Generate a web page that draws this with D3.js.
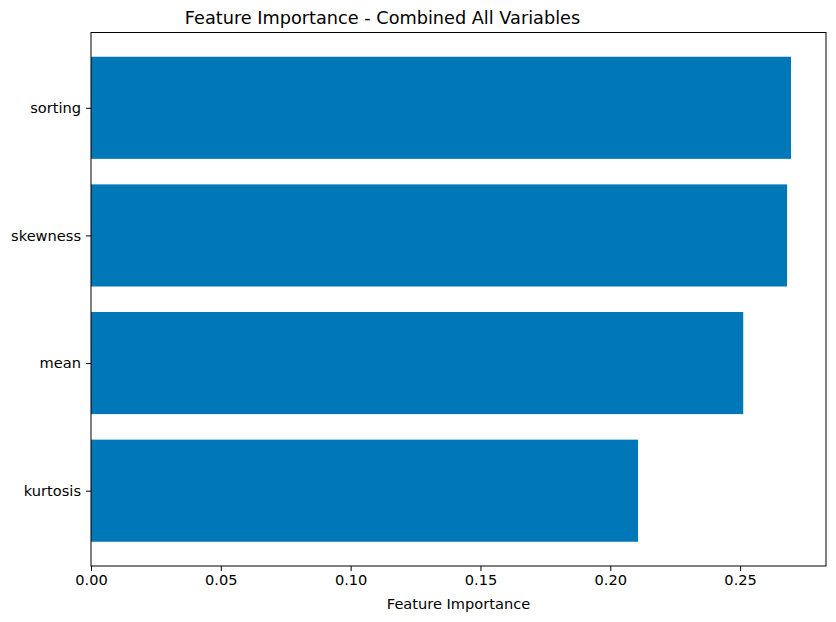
<!DOCTYPE html>
<html>
<head>
<meta charset="utf-8">
<script src="https://cdn.jsdelivr.net/npm/d3@7"></script>
<style>
body { margin: 0; background: #fff; }
svg text { font-family: "DejaVu Sans", sans-serif; fill: #000; }
</style>
</head>
<body>
<div id="container"></div>
<script>
var features = ["kurtosis", "mean", "skewness", "sorting"];
var importance = [0.2107, 0.2512, 0.2681, 0.2696];
var xTicks = [0, 0.05, 0.10, 0.15, 0.20, 0.25];

var width = 836, height = 622;
var plotLeft = 91, plotRight = 826, plotTop = 32.5, plotBottom = 566;

var xScale = d3.scaleLinear()
	.domain([0, d3.max(importance) * 1.05])
	.range([plotLeft, plotRight]);
var yScale = d3.scaleLinear()
	.domain([-0.59, 3.59])
	.range([plotBottom, plotTop]);

var svg = d3.select('#container').append('svg')
	.attr('width', width)
	.attr('height', height);

svg.selectAll('rect.bar').data(importance).enter()
	.append('rect')
	.attr('class', 'bar')
	.attr('x', xScale(0))
	.attr('y', function(d, i){ return yScale(i + 0.4); })
	.attr('width', function(d){ return xScale(d) - xScale(0); })
	.attr('height', function(d, i){ return yScale(i - 0.4) - yScale(i + 0.4); })
	.attr('fill', '#0077b6');

var xAxis = d3.axisBottom(xScale)
	.tickValues(xTicks)
	.tickFormat(d3.format('.2f'))
	.tickSizeInner(5).tickSizeOuter(0).tickPadding(4);
var gx = svg.append('g')
	.attr('transform', 'translate(0,' + plotBottom + ')')
	.call(xAxis);
gx.select('.domain').remove();
gx.selectAll('text').style('font-size', '14.6px');
gx.selectAll('line').attr('stroke', '#000').attr('stroke-width', 1);

var yAxis = d3.axisLeft(yScale)
	.tickValues(d3.range(features.length))
	.tickFormat(function(d){ return features[d]; })
	.tickSizeInner(5).tickSizeOuter(0).tickPadding(5);
var gy = svg.append('g')
	.attr('transform', 'translate(' + plotLeft + ',0)')
	.call(yAxis);
gy.select('.domain').remove();
gy.selectAll('text').style('font-size', '14.6px');
gy.selectAll('line').attr('stroke', '#000').attr('stroke-width', 1);

svg.append('rect')
	.attr('x', plotLeft).attr('y', plotTop)
	.attr('width', plotRight - plotLeft).attr('height', plotBottom - plotTop)
	.attr('fill', 'none')
	.attr('stroke', '#000')
	.attr('stroke-width', 1);

svg.append('text')
	.attr('x', 458.5)
	.attr('y', 609)
	.attr('text-anchor', 'middle')
	.style('font-size', '14.6px')
	.text('Feature Importance');

svg.append('text')
	.attr('x', 382.5)
	.attr('y', 24)
	.attr('text-anchor', 'middle')
	.style('font-size', '17.7px')
	.text('Feature Importance - Combined All Variables');
</script>
</body>
</html>
